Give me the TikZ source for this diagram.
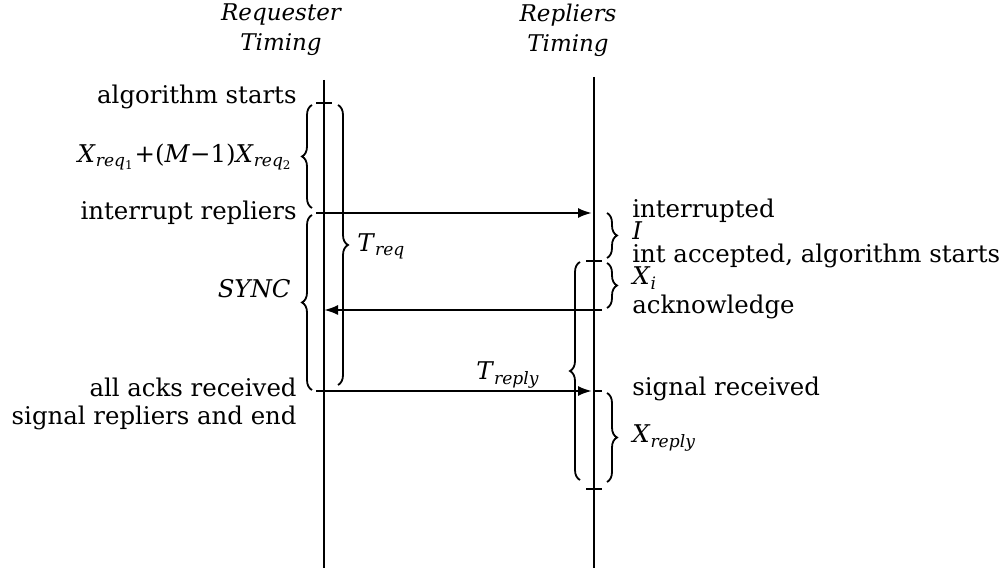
\documentclass[tikz,border=0pt]{standalone}
\usepackage{fontspec}
\setmainfont{DejaVu Serif}
\usetikzlibrary{decorations.pathreplacing,arrows.meta}
\newcommand\isub[1]{\textsubscript{\textit{#1}}}
\begin{document}
\begin{tikzpicture}[x=0.5pt,y=-0.5pt,
  lbl/.style={font=\fontsize{12.2}{14}\selectfont, inner sep=0pt},
  ttl/.style={font=\fontsize{11.5}{15}\selectfont\itshape, align=center, inner sep=0pt},
  tl/.style={line width=1.3pt},
  msg/.style={line width=1.1pt,-{Latex[length=7pt,width=5pt]}},
  brc/.style={line width=0.9pt, decorate, decoration={brace, amplitude=5pt}},
  tick/.style={line width=1pt}]
\useasboundingbox (0,0) rectangle (1003,572);
% time lines
\coordinate (Rt) at (324,80); \coordinate (Rb) at (324,568);
\coordinate (Pt) at (594,77); \coordinate (Pb) at (594,568);
\draw[tl] (Rt) -- (Rb);
\draw[tl] (Pt) -- (Pb);
% titles
\node[ttl] (rtitle) at (281,30) {Requester\\Timing};
\node[ttl] (ptitle) at (568,30) {Repliers\\Timing};
% ticks
\draw[tick] (316,103) -- (332,103);
\draw[tick] (586,261) -- (602,261);
\draw[tick] (586,489) -- (602,489);
% messages
\coordinate (i0) at (316,213); \coordinate (i1) at (594,213);
\coordinate (a0) at (602,310); \coordinate (a1) at (324,310);
\coordinate (s0) at (316,391); \coordinate (s1) at (594,391); \coordinate (s2) at (602,391);
\draw[msg, shorten >=1pt] (i0) -- (i1);
\draw[msg] (a0) -- (a1);
\draw[msg, shorten >=1pt] (s0) -- (s1);
\draw[tick] (s1) -- (s2);
% braces
\draw[brc] (312,208) -- (312,105);
\draw[brc] (312,390) -- (312,215);
\draw[brc] (338,105) -- (338,385);
\draw[brc] (607,213) -- (607,258);
\draw[brc] (607,263) -- (607,308);
\draw[brc] (607,393) -- (607,482);
\draw[brc] (580,480) -- (580,262);
% left labels
\node[lbl, anchor=base east] (as) at (297,104) {algorithm starts};
\node[lbl, anchor=base east] (xr) at (293,163) {\textit{X}\textsubscript{\textit{req}\textsubscript{1}}+(\textit{M}−1)\textit{X}\textsubscript{\textit{req}\textsubscript{2}}};
\node[lbl, anchor=base east] (ir) at (297,220) {interrupt repliers};
\node[lbl, anchor=base east, font=\fontsize{12.2}{14}\selectfont\itshape] (sy) at (291,298) {SYNC};
\node[lbl, anchor=base west] (tr) at (357,252) {\textit{T}\isub{req}};
\node[lbl, anchor=base east, text depth=0pt] (ar) at (297,397) {all acks received};
\node[lbl, anchor=base east] (sr) at (297,425) {signal repliers and end};
\node[lbl, anchor=base] (tp) at (508,380) {\textit{T}\isub{reply}};
% right labels
\node[lbl, anchor=base west] (in) at (632,218) {interrupted};
\node[lbl, anchor=base west] (ii) at (632,240) {\textit{I}};
\node[lbl, anchor=base west] (ia) at (632,263) {int accepted, algorithm starts};
\node[lbl, anchor=base west] (xi) at (632,285) {\textit{X}\isub{i}};
\node[lbl, anchor=base west] (ak) at (632,314) {acknowledge};
\node[lbl, anchor=base west] (sg) at (632,396) {signal received};
\node[lbl, anchor=base west] (xp) at (632,443) {\textit{X}\isub{reply}};
\end{tikzpicture}
\end{document}
